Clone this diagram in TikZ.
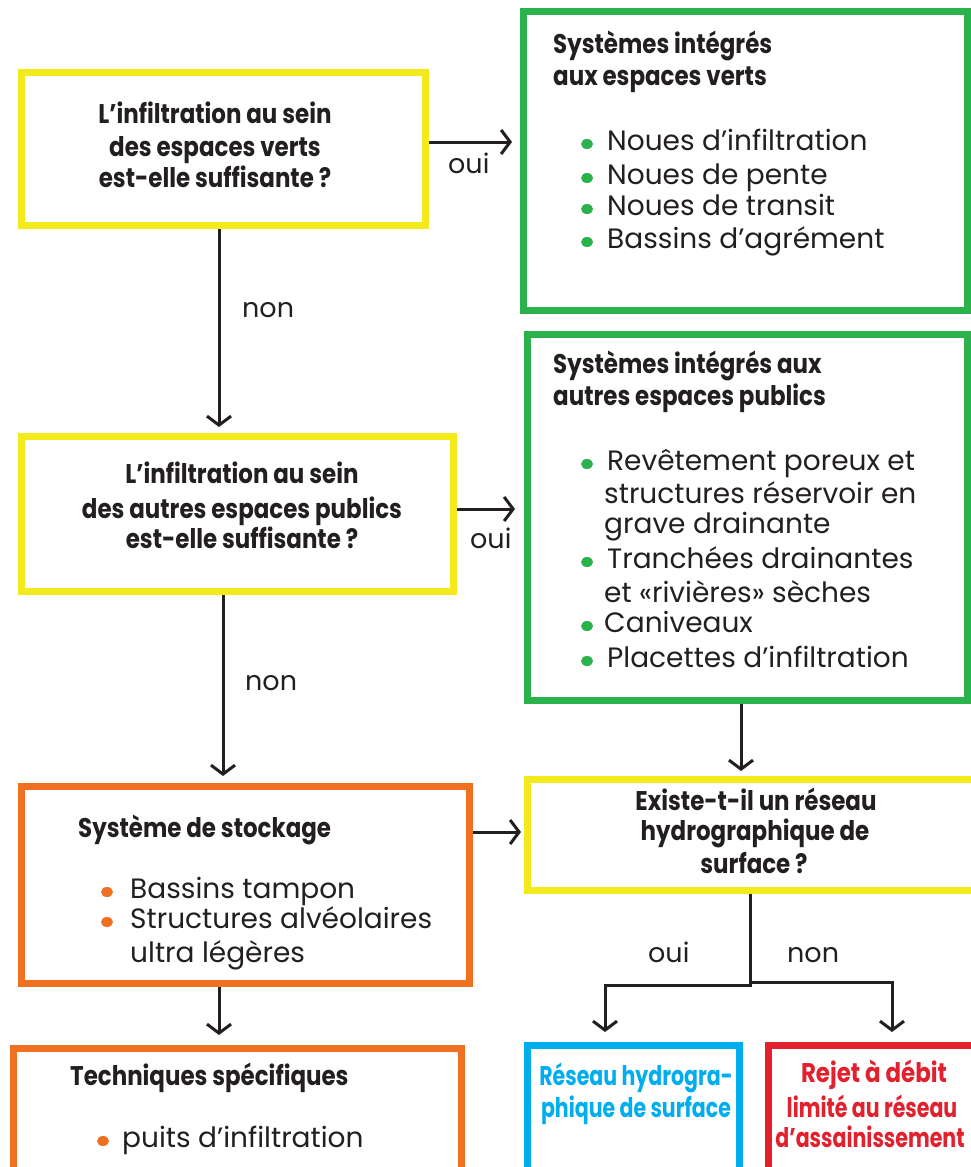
\documentclass[tikz,border=0pt]{standalone}
\usepackage{fontspec}
\usetikzlibrary{arrows.meta}
\newfontfamily\bodyf{Poppins}
\newfontfamily\hdrf{Poppins}[FakeStretch=0.85]
\newfontfamily\hdrnf{Poppins}[FakeStretch=0.76]
\definecolor{ink}{HTML}{231F20}
\definecolor{yel}{HTML}{F2EA1A}
\definecolor{grn}{HTML}{2BB24C}
\definecolor{org}{HTML}{F07022}
\definecolor{blu}{HTML}{00AEEF}
\definecolor{rd}{HTML}{E3202E}
\tikzset{
  box/.style={draw, line width=7pt, inner sep=0pt, fill=none},
  ybox/.style={box, draw=yel},
  gbox/.style={box, draw=grn},
  obox/.style={box, draw=org},
  arr/.style={draw=ink, line width=3pt, -{Straight Barb[length=9pt,width=24pt]}},
  item/.style={inner sep=0pt, anchor=base west, text=ink, font=\bodyf\fontsize{28}{32}\selectfont},
  lbl/.style={inner sep=0pt, anchor=base west, text=ink, font=\bodyf\fontsize{27}{32}\selectfont},
  hdr/.style={inner sep=0pt, anchor=base, text=ink, font=\hdrf\bfseries\fontsize{27}{32}\selectfont},
  hdrn/.style={hdr, font=\hdrnf\bfseries\fontsize{27}{32}\selectfont},
  hdrl/.style={hdr, anchor=base west},
}
\begin{document}
\begin{tikzpicture}[x=1pt,y=-1pt]
\useasboundingbox (0,0) rectangle (971,1167);
\clip (0,0) rectangle (971,1167);
\fill[white] (0,0) rectangle (971,1167);
% boxes
\node[ybox, minimum width=404pt, minimum height=153pt] (b1) at (223.5,149) {};
\node[gbox, minimum width=444pt, minimum height=299pt] (g1) at (745.5,161) {};
\node[ybox, minimum width=432pt, minimum height=155pt] (b2) at (237.5,514) {};
\node[gbox, minimum width=440pt, minimum height=366pt] (g2) at (747.5,517.5) {};
\node[obox, minimum width=448pt, minimum height=197pt] (s1) at (245.5,885) {};
\node[ybox, minimum width=462.5pt, minimum height=111pt] (q3) at (758.75,835) {};
\node[obox, minimum width=448pt, minimum height=141.5pt] (t1) at (237.5,1119.25) {};
\node[box, draw=blu, minimum width=212pt, minimum height=144.5pt] (bl) at (633.5,1117.75) {};
\node[box, draw=rd, minimum width=226.5pt, minimum height=144.5pt] (rj) at (881.75,1117.75) {};
% connectors
\draw[arr, shorten >=8pt] ([yshift=7pt]b1.east) -- ([yshift=7pt]b1.east -| g1.west);
\draw[arr, shorten >=6pt] ([xshift=-4.5pt]b1.south) -- ([xshift=-4.5pt]b1.south |- b2.north);
\draw[arr, shorten >=9pt] ([yshift=5pt]b2.east) -- ([yshift=5pt]b2.east -| g2.west);
\draw[arr, shorten >=7pt] ([xshift=-14.5pt]b2.south) -- ([xshift=-14.5pt]b2.south |- s1.north);
\draw[arr, shorten >=5pt] ([xshift=-6.5pt]g2.south) -- ([xshift=-6.5pt]g2.south |- q3.north);
\draw[arr, shorten >=3pt] ([yshift=53pt]s1.east) -- ([yshift=53pt]s1.east -| q3.west);
\draw[arr, shorten >=10pt] ([xshift=-26.5pt]s1.south) -- ([xshift=-26.5pt]s1.south |- t1.north);
\coordinate (jL) at (750,985);
\coordinate (jR) at (750,982);
\draw[arr, shorten >=10pt] ([xshift=-8.75pt]q3.south) -- (jL) -| ([xshift=-28.5pt]bl.north);
\draw[arr, shorten >=10pt] (jR) -| ([xshift=10.25pt]rj.north);
% labels
\node[lbl] (l1) at (448,173) {oui};
\node[lbl] (l2) at (242,317) {non};
\node[lbl] (l3) at (470,548) {oui};
\node[lbl] (l4) at (245,690) {non};
\node[lbl] (l5) at (648,962) {oui};
\node[lbl] (l6) at (787,962) {non};
% box 1
\node[hdr] (b1a) at (215,123) {L’infiltration au sein};
\node[hdr] (b1b) at (215,156) {des espaces verts};
\node[hdr] (b1c) at (215,187) {est-elle suffisante ?};
% box 2
\node[hdr] (b2a) at (242,483) {L’infiltration au sein};
\node[hdr] (b2b) at (242,518) {des autres espaces publics};
\node[hdr] (b2c) at (242,548) {est-elle suffisante ?};
% g1
\node[hdrl] (g1t) at (553,53) {Systèmes intégrés};
\node[hdrl] (g1u) at (553,85) {aux espaces verts};
\node[item] (g1a) at (607,150) {Noues d’infiltration};
\node[item] (g1b) at (607,184) {Noues de pente};
\node[item] (g1c) at (607,215) {Noues de transit};
\node[item] (g1d) at (607,248) {Bassins d’agrément};
\foreach \y in {150,184,215,248} \fill[grn] (587,\y-6) ellipse (6pt and 5pt);
% g2
\node[hdrl] (g2t) at (553,373) {Systèmes intégrés aux};
\node[hdrl] (g2u) at (553,405) {autres espaces publics};
\node[item] (g2a) at (607,470) {Revêtement poreux et};
\node[item] (g2b) at (604,503) {structures réservoir en};
\node[item] (g2c) at (604,533) {grave drainante};
\node[item] (g2d) at (607,568) {Tranchées drainantes};
\node[item] (g2e) at (604,602) {et «rivières» sèches};
\node[item] (g2f) at (604,632) {Caniveaux};
\node[item] (g2g) at (607,667) {Placettes d’infiltration};
\foreach \y in {470,568,632,667} \fill[grn] (587,\y-6) ellipse (6pt and 5pt);
% s1
\node[hdrl] (s1t) at (78,837) {Système de stockage};
\node[item] (s1a) at (130,898) {Bassins tampon};
\node[item] (s1b) at (130,928) {Structures alvéolaires};
\node[item] (s1c) at (130,962) {ultra légères};
\foreach \y in {898,928} \fill[org] (107,\y-6) ellipse (6pt and 5pt);
% q3
\node[hdr] (q3a) at (756,810) {Existe-t-il un réseau};
\node[hdr] (q3b) at (755,840) {hydrographique de};
\node[hdr] (q3c) at (754,873) {surface ?};
% t1
\node[hdrl] (t1t) at (70,1085) {Techniques spécifiques};
\node[item] (t1a) at (122,1147) {puits d’infiltration};
\fill[org] (103,1141) ellipse (6pt and 5pt);
% blue
\node[hdrn, text=blu] (bla) at (636,1085) {Réseau hydrogra-};
\node[hdrn, text=blu] (blb) at (636,1117) {phique de surface};
% red
\node[hdr, text=rd] (rja) at (874,1082) {Rejet à débit};
\node[hdrn, text=rd] (rjb) at (872,1117) {limité au réseau};
\node[hdrn, text=rd] (rjc) at (870,1147) {d’assainissement};
\end{tikzpicture}
\end{document}
